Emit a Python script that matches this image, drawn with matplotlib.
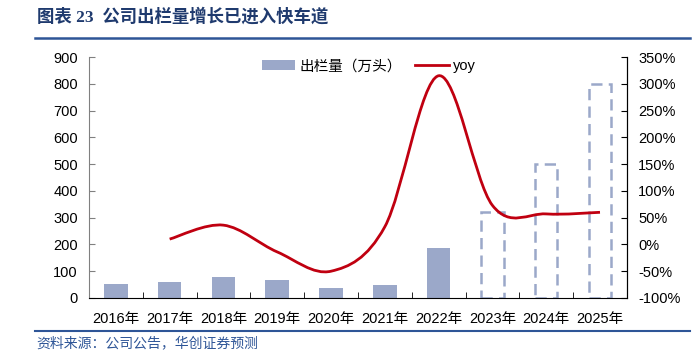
import numpy as np
import matplotlib
matplotlib.use('Agg')
import matplotlib.pyplot as plt
from matplotlib.path import Path
from matplotlib.patches import PathPatch, Patch
from matplotlib.lines import Line2D

## Data
years = ['2016年', '2017年', '2018年', '2019年', '2020年', '2021年', '2022年', '2023年', '2024年', '2025年']
actual = [52, 58, 77, 67, 36, 47, 185]          # 出栏量 (万头), 2016-2022
forecast = [320, 500, 800]                       # 2023-2025 forecast
yoy_years = [1, 2, 3, 4, 5, 6, 7, 8, 9]          # index of years with yoy
yoy = [10, 36, -14, -50, 33, 315, 73, 57, 60]    # %

plt.rcParams['font.family'] = ['Liberation Sans', 'Noto Sans CJK SC']
plt.rcParams['font.size'] = 10

fig = plt.figure(figsize=(6.95, 3.55), dpi=100)
ax = fig.add_axes([0.128, 0.1606, 0.774, 0.6788])
ax2 = ax.twinx()

bar_color = '#9BA8C9'
line_color = '#C00010'

## bars
x_act = np.arange(len(actual))
ax.bar(x_act, actual, width=0.44, color=bar_color, zorder=2)
x_fc = np.arange(len(actual), len(years))
ax.bar(x_fc, forecast, width=0.42, facecolor='none', edgecolor=bar_color,
       linewidth=1.8, linestyle=(0, (4.5, 2.5)), zorder=2)

ax.set_xlim(-0.5, len(years) - 0.5)
ax.set_ylim(0, 900)
ax.set_yticks(np.arange(0, 901, 100))
ax.set_xticks(np.arange(len(years)))
ax.set_xticklabels(years, fontsize=10.5)
ax.set_xticks(np.arange(0.5, len(years) - 0.5, 1), minor=True)
ax.tick_params(axis='x', which='major', length=0, pad=10)
ax.tick_params(axis='x', which='minor', direction='in', length=4, color='black')
ax.tick_params(axis='y', direction='in', length=4, color='#808080', pad=8, labelsize=10.5)

## smooth yoy line (bezier through the points)
px = np.array(yoy_years, dtype=float)
py = np.array(yoy, dtype=float)
verts = [(px[0], py[0])]
codes = [Path.MOVETO]
n = len(px)
for i in range(n - 1):
    p0 = i - 1 if i > 0 else i
    p3 = i + 2 if i + 2 < n else i + 1
    c1 = (px[i] + (px[i + 1] - px[p0]) / 6, py[i] + (py[i + 1] - py[p0]) / 6)
    c2 = (px[i + 1] - (px[p3] - px[i]) / 6, py[i + 1] - (py[p3] - py[i]) / 6)
    verts += [c1, c2, (px[i + 1], py[i + 1])]
    codes += [Path.CURVE4] * 3
ax2.add_patch(PathPatch(Path(verts, codes), facecolor='none', edgecolor=line_color,
                        linewidth=2, zorder=3))
ax2.set_ylim(-100, 350)
ax2.set_yticks(np.arange(-100, 351, 50))
ax2.set_yticklabels(['%d%%' % v for v in range(-100, 351, 50)])
ax2.tick_params(axis='y', direction='in', length=4, pad=8, labelsize=10.5)

for a in (ax, ax2):
    a.spines['top'].set_visible(False)
ax.spines['left'].set_color('#808080')
ax2.spines['left'].set_visible(False)
ax2.spines['bottom'].set_visible(False)

handles = [Patch(facecolor=bar_color, edgecolor='none'),
           Line2D([0], [0], color=line_color, linewidth=2)]
ax.legend(handles, ['出栏量（万头）', 'yoy'], loc='upper center', bbox_to_anchor=(0.52, 1.045),
          ncol=2, frameon=False, handlelength=2.3, handleheight=0.7, columnspacing=0.9,
          handletextpad=0.3, fontsize=10.5)

## title, rules and source
fig.text(0.053, 0.952, '图表 23  公司出栏量增长已进入快车道', fontsize=12.5, fontweight='bold',
         color='#1F3A6E', va='center', family=['Liberation Serif', 'Noto Sans CJK SC'])
fig.add_artist(Line2D([0.05, 0.993], [0.893, 0.893], color='#2E5597', linewidth=1.8))
fig.add_artist(Line2D([0.05, 0.993], [0.0676, 0.0676], color='#2E5597', linewidth=1.5))
fig.text(0.053, 0.034, '资料来源：公司公告，华创证券预测', fontsize=10, color='#2E5597',
         va='center', style='italic', family=['Noto Sans CJK SC'])

fig.savefig('out.png', dpi=100)
